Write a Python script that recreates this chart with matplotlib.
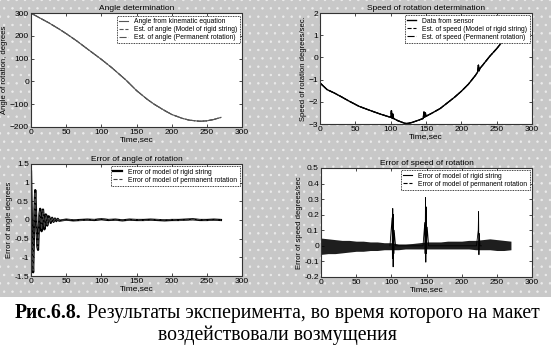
import matplotlib.pyplot as plt
from matplotlib.patches import Rectangle

# --- data ---
t_angle = [0, 10, 25, 40, 50, 65, 80, 100, 115, 125, 135, 150, 165, 175, 190, 200,
           215, 225, 240, 250, 260, 270]
angle = [300, 283, 258, 230, 210, 178, 143, 97, 60, 33, 6, -40, -78, -100, -128, -145,
         -162, -170, -175, -173, -167, -158]

t_speed = [0, 5, 10, 20, 30, 40, 55, 70, 85, 100, 101, 102, 103, 104, 110, 120, 125, 130,
           140, 146, 147, 148, 149, 150, 160, 170, 180, 190, 200, 210, 220, 223, 224, 225,
           226, 230, 240, 250, 260, 270]
speed = [-1.15, -1.3, -1.45, -1.6, -1.77, -1.95, -2.2, -2.38, -2.55, -2.7, -2.4, -2.75,
         -2.55, -2.75, -2.85, -2.97, -2.97, -2.93, -2.82, -2.75, -2.45, -2.7, -2.5, -2.65,
         -2.48, -2.3, -2.05, -1.8, -1.52, -1.2, -0.8, -0.65, -0.35, -0.6, -0.5, -0.35,
         0.05, 0.4, 0.8, 1.15]

t_err_angle = [0, 1, 2, 3, 4, 5, 6, 7, 8, 9, 10, 11, 12, 13, 14, 15, 16, 17, 18, 19, 20,
               21, 22, 23, 24, 25, 26, 28, 30, 32, 34, 36, 38, 40, 50, 60, 70, 80, 90,
               100, 110, 120, 130, 140, 150, 160, 170, 180, 190, 200, 210, 220, 230, 240,
               250, 260, 270]
err_angle_rigid = [1.3, 0.2, -1.0, -1.4, -0.6, 0.3, 0.8, 0.3, -0.3, -0.7, -0.8, -0.3,
                   0.15, 0.3, 0.1, -0.3, 0.0, 0.28, 0.1, -0.25, -0.1, 0.15, 0.12, -0.15,
                   -0.05, 0.1, 0.08, -0.08, 0.06, -0.05, 0.04, -0.03, 0.03, -0.02, 0.01,
                   -0.01, 0.0, 0.01, 0.0, 0.02, 0.0, 0.01, -0.01, 0.01, 0.0, 0.0, 0.01,
                   0.0, -0.01, 0.0, 0.0, 0.01, 0.02, 0.0, 0.0, 0.01, 0.0]
err_angle_perm = [1.25, 0.1, -1.1, -1.35, -0.5, 0.4, 0.75, 0.2, -0.4, -0.75, -0.7, -0.2,
                  0.2, 0.25, 0.0, -0.25, 0.05, 0.25, 0.05, -0.2, -0.05, 0.12, 0.08, -0.12,
                  -0.02, 0.08, 0.05, -0.06, 0.04, -0.04, 0.03, -0.02, 0.02, -0.01, 0.0,
                  0.01, -0.01, 0.0, 0.01, 0.03, 0.01, 0.0, 0.0, 0.0, 0.01, -0.01, 0.0,
                  0.01, 0.0, 0.01, -0.01, 0.0, 0.01, 0.01, -0.01, 0.0, 0.0]

t_band = [0, 10, 20, 30, 40, 50, 60, 70, 80, 90, 100, 110, 120, 130, 140, 150, 160, 170,
          180, 190, 200, 210, 220, 230, 240, 250, 260, 270]
band_hi = [0.05, 0.045, 0.04, 0.035, 0.035, 0.03, 0.03, 0.025, 0.025, 0.02, 0.02, 0.012,
           0.012, 0.015, 0.02, 0.025, 0.025, 0.025, 0.03, 0.03, 0.03, 0.035, 0.035, 0.04,
           0.045, 0.04, 0.035, 0.03]
band_lo = [-0.055, -0.05, -0.05, -0.045, -0.04, -0.035, -0.035, -0.03, -0.03, -0.025,
           -0.025, -0.025, -0.02, -0.02, -0.02, -0.02, -0.02, -0.02, -0.02, -0.02, -0.02,
           -0.02, -0.025, -0.025, -0.025, -0.03, -0.03, -0.025]

t_spikes = [98, 101, 101.5, 102, 102.5, 103, 103.5, 104, 106,
            145, 147.5, 148, 148.5, 149, 149.5, 150, 151, 153,
            221, 223.5, 224, 224.5, 225, 226, 228]
speed_err_spikes = [0.0, 0.18, -0.08, 0.24, -0.135, 0.2, -0.05, 0.1, 0.0,
                    0.0, 0.15, -0.05, 0.31, -0.105, 0.25, -0.05, 0.12, 0.0,
                    0.0, 0.1, 0.22, -0.057, 0.08, 0.0, 0.0]

x_ticks = [0, 50, 100, 150, 200, 250, 300]

plt.rcParams['font.family'] = ['Liberation Sans', 'DejaVu Sans']
plt.rcParams['font.size'] = 6
plt.rcParams['hatch.linewidth'] = 0.5

fig = plt.figure(figsize=(5.51, 3.58), dpi=100)
bg = Rectangle((0, 0.17), 1, 0.83, transform=fig.transFigure, facecolor='#c8c8c8',
               edgecolor='#ececec', hatch='..', linewidth=0, zorder=-10)
fig.patches.append(bg)

dotted = (0, (1, 1))


def style(ax, title, ylabel):
    ax.set_title(title, fontsize=6, pad=2)
    ax.set_xlabel('Time,sec', fontsize=6, labelpad=0)
    ax.set_ylabel(ylabel, fontsize=5.5, labelpad=1)
    ax.set_xlim(0, 300)
    ax.set_xticks(x_ticks)
    ax.tick_params(direction='in', length=2, width=0.5, top=True, right=True, pad=1.5,
                   labelsize=6)
    for s in ax.spines.values():
        s.set_linestyle(dotted)
        s.set_color('#333333')
        s.set_linewidth(0.8)


ax1 = fig.add_axes([0.0563, 0.6453, 0.383, 0.318])
ax1.plot(t_angle, angle, color='#555555', lw=0.8, label='Angle from kinematic equation')
ax1.plot(t_angle, angle, color='#555555', lw=0.8, ls='--',
         label='Est. of angle (Model of rigid string)')
ax1.plot(t_angle, angle, color='#555555', lw=0.8, ls='-.',
         label='Est. of angle (Permanent rotation)')
ax1.set_ylim(-200, 300)
ax1.set_yticks([-200, -100, 0, 100, 200, 300])
style(ax1, 'Angle determination', 'Angle of rotation, degrees')

ax2 = fig.add_axes([0.5808, 0.6536, 0.385, 0.310])
ax2.plot(t_speed, speed, color='black', lw=1.0, label='Data from sensor')
ax2.plot(t_speed, speed, color='black', lw=0.8, ls='--',
         label='Est. of speed (Model of rigid string)')
ax2.plot(t_speed, speed, color='black', lw=0.8, ls='-.',
         label='Est. of speed (Permanent rotation)')
ax2.set_ylim(-3, 2)
ax2.set_yticks([-3, -2, -1, 0, 1, 2])
style(ax2, 'Speed of rotation determination', 'Speed of rotation degrees/sec.')

ax3 = fig.add_axes([0.0563, 0.229, 0.383, 0.313])
ax3.plot(t_err_angle, err_angle_rigid, color='black', lw=1.6,
         label='Error of model of rigid string')
ax3.plot(t_err_angle, err_angle_perm, color='#444444', lw=0.8, ls='--',
         label='Error of model of permanent rotation')
ax3.set_ylim(-1.5, 1.5)
ax3.set_yticks([-1.5, -1, -0.5, 0, 0.5, 1, 1.5])
ax3.set_yticklabels(['-1.5', '-1', '-0.5', '0', '0.5', '1', '1.5'])
style(ax3, 'Error of angle of rotation', 'Error of angle degrees')

ax4 = fig.add_axes([0.5826, 0.2263, 0.383, 0.3045])
ax4.fill_between(t_band, band_lo, band_hi, color='#1e1e1e', lw=0)
ax4.plot(t_spikes, speed_err_spikes, color='black', lw=0.6)
ax4.plot([], [], color='black', lw=0.8, label='Error of model of rigid string')
ax4.plot([], [], color='black', lw=0.8, ls='--', label='Error of model of permanent rotation')
ax4.set_ylim(-0.2, 0.5)
ax4.set_yticks([-0.2, -0.1, 0, 0.1, 0.2, 0.3, 0.4, 0.5])
ax4.set_yticklabels(['-0.2', '-0.1', '0', '0.1', '0.2', '0.3', '0.4', '0.5'])
style(ax4, 'Error of speed of rotation', 'Error of speed degrees/sec')

for ax in (ax1, ax2, ax3, ax4):
    leg = ax.legend(loc='upper right', fontsize=4.9, fancybox=False, framealpha=1,
                    edgecolor='black', borderpad=0.35, labelspacing=0.15,
                    handlelength=1.3, handletextpad=0.9, borderaxespad=0.35)
    leg.get_frame().set_linewidth(0.6)
    leg.get_frame().set_linestyle(dotted)

# caption: bold figure number followed by regular text
cap_font = ['Liberation Serif', 'DejaVu Serif']
b = fig.text(0, 0.112, 'Рис.6.8.', fontsize=14.2, fontweight='bold', family=cap_font,
             va='baseline')
n = fig.text(0, 0.112, ' Результаты эксперимента, во время которого на макет',
             fontsize=14.2, family=cap_font, va='baseline')
fig.canvas.draw()
r = fig.canvas.get_renderer()
wb = b.get_window_extent(r).width / fig.bbox.width
wn = n.get_window_extent(r).width / fig.bbox.width
x0 = 0.503 - (wb + wn) / 2
b.set_x(x0)
n.set_x(x0 + wb)
fig.text(0.503, 0.05, 'воздействовали возмущения', fontsize=14.2, family=cap_font,
         ha='center', va='baseline')

fig.savefig('out.png', dpi=100)
